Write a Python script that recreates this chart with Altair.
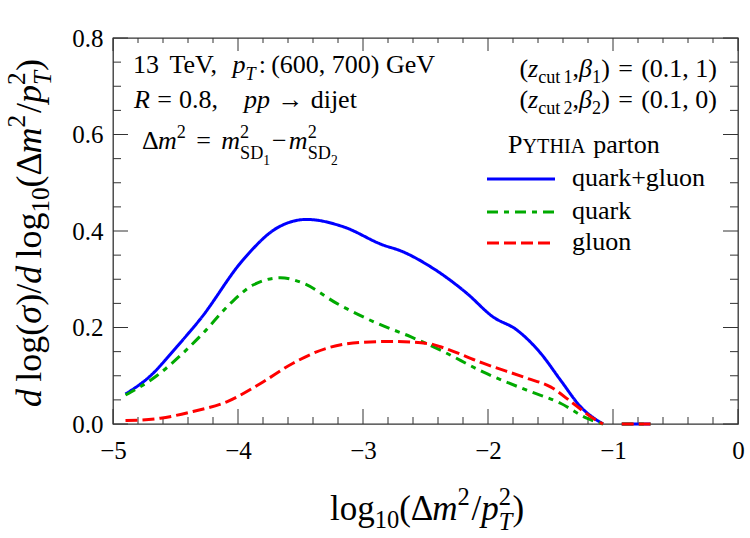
import altair as alt
import pandas as pd

# ---- curves: log10(dm^2/pT^2) vs normalised distribution ----
series_names = ["quark+gluon", "quark", "gluon"]

qg_x = [-4.90, -4.70, -4.49, -4.30, -3.96, -3.69, -3.45, -3.16, -2.84, -2.70,
        -2.46, -2.17, -1.96, -1.77, -1.58, -1.42, -1.26, -1.08]
qg_y = [0.062, 0.100, 0.160, 0.218, 0.340, 0.406, 0.424, 0.409, 0.371, 0.359,
        0.326, 0.271, 0.222, 0.195, 0.147, 0.091, 0.036, 0.000]

q_x = [-4.90, -4.65, -4.44, -4.28, -4.06, -3.88, -3.66, -3.48, -3.21, -2.89, -2.62,
       -2.38, -2.04, -1.69, -1.42, -1.21, -1.08]
q_y = [0.060, 0.100, 0.147, 0.188, 0.250, 0.288, 0.303, 0.292, 0.250, 0.209, 0.181,
       0.153, 0.108, 0.070, 0.043, 0.012, 0.000]

g_x = [-4.90, -4.62, -4.36, -4.09, -3.82, -3.56, -3.29, -3.02, -2.76, -2.46,
       -2.38, -2.04, -1.69, -1.50, -1.32, -1.16, -1.08]
g_y = [0.007, 0.012, 0.026, 0.046, 0.084, 0.126, 0.157, 0.169, 0.171, 0.166,
       0.160, 0.126, 0.095, 0.077, 0.043, 0.012, 0.000]

# short zero-valued piece beyond the endpoint
tail_x = [-0.93, -0.70]
tail_y = [0.0, 0.0]

x_tick_values = [-5, -4, -3, -2, -1, 0]
y_tick_values = [0.0, 0.2, 0.4, 0.6, 0.8]

# ---- geometry ----
W, H = 625, 386
X0, Y0 = 113, 38
XMIN, XMAX, YMIN, YMAX = -5.0, 0.0, 0.0, 0.8

colors = {"quark+gluon": "#0000ff", "quark": "#00aa00", "gluon": "#ff0000"}
dashes = {"quark+gluon": [1, 0], "quark": [11, 6, 5, 6], "gluon": [12, 5]}
LW = 3

FONT = "'Liberation Serif', 'Times New Roman', serif"


def curve_frame(name, xs, ys):
    rows = [{"x": a, "y": b, "seg": 0} for a, b in zip(xs, ys)]
    rows += [{"x": a, "y": b, "seg": 1} for a, b in zip(tail_x, tail_y)]
    return pd.DataFrame(rows)


xs_scale = alt.Scale(domain=[XMIN, XMAX], nice=False, zero=False)
ys_scale = alt.Scale(domain=[YMIN, YMAX], nice=False, zero=False)

layers = []

# tick marks pointing inward on all four sides
x_minor = [round(-5 + 0.2 * i, 2) for i in range(26) if i % 5 != 0]
y_minor = [round(0.05 * i, 2) for i in range(17) if i % 4 != 0]


def xticks(vals, length):
    d = pd.DataFrame({"v": vals})
    bot = alt.Chart(d).mark_rule(color="#333", strokeWidth=1).encode(
        x=alt.X("v:Q", scale=xs_scale), y=alt.value(H), y2=alt.value(H - length))
    top = alt.Chart(d).mark_rule(color="#333", strokeWidth=1).encode(
        x=alt.X("v:Q", scale=xs_scale), y=alt.value(0), y2=alt.value(length - 2))
    return [bot, top]


def yticks(vals, length):
    d = pd.DataFrame({"v": vals})
    left = alt.Chart(d).mark_rule(color="#333", strokeWidth=1).encode(
        y=alt.Y("v:Q", scale=ys_scale), x=alt.value(0), x2=alt.value(length))
    right = alt.Chart(d).mark_rule(color="#333", strokeWidth=1).encode(
        y=alt.Y("v:Q", scale=ys_scale), x=alt.value(W), x2=alt.value(W - length))
    return [left, right]


layers += xticks(x_tick_values, 15) + xticks(x_minor, 7)
layers += yticks(y_tick_values, 15) + yticks(y_minor, 8)

# base layer carrying the axes
axis_base = alt.Chart(pd.DataFrame({"x": [XMIN], "y": [YMIN]})).mark_point(opacity=0).encode(
    x=alt.X("x:Q", scale=xs_scale,
            axis=alt.Axis(values=x_tick_values, format="d", title=None, labelPadding=14,
                          labelFlush=False, labelOverlap=False)),
    y=alt.Y("y:Q", scale=ys_scale,
            axis=alt.Axis(values=y_tick_values, format=".1f", title=None, labelPadding=10,
                          labelFlush=False, labelOverlap=False)),
)
layers.insert(0, axis_base)

for name, xs, ys in [("quark+gluon", qg_x, qg_y), ("quark", q_x, q_y), ("gluon", g_x, g_y)]:
    layers.append(
        alt.Chart(curve_frame(name, xs, ys)).mark_line(
            color=colors[name], strokeDash=dashes[name], strokeWidth=LW,
            interpolate="monotone").encode(
            x=alt.X("x:Q", scale=xs_scale), y=alt.Y("y:Q", scale=ys_scale),
            detail="seg:N")
    )

# ---- rich text (Times metrics, em units) ----
REG = {' ': 0.25, '.': 0.25, ',': 0.25, ':': 0.278, '(': 0.333, ')': 0.333, '=': 0.564,
       '+': 0.564, '\u2212': 0.564, '/': 0.278, '\u2192': 1.0,
       'T': 0.611, 'V': 0.722, 'G': 0.722, 'S': 0.556, 'D': 0.722, 'P': 0.556, 'Y': 0.722,
       'H': 0.722, 'I': 0.333, 'A': 0.722, 'R': 0.667,
       'a': 0.444, 'c': 0.444, 'd': 0.5, 'e': 0.444, 'g': 0.5, 'i': 0.278, 'j': 0.278,
       'k': 0.5, 'l': 0.278, 'n': 0.5, 'o': 0.5, 'p': 0.5, 'q': 0.5, 'r': 0.333,
       't': 0.278, 'u': 0.5, '\u0394': 0.612}
ITA = {'p': 0.5, 'T': 0.556, 'R': 0.611, 'm': 0.722, 'z': 0.389, 'd': 0.5,
       '\u03b2': 0.5, '\u03c3': 0.5}

# kind -> (relative size, baseline shift in em of the main size, italic)
KINDS = {
    "r": (1.0, 0.0, False), "i": (1.0, 0.0, True),
    "sub": (0.7, 0.22, False), "isub": (0.7, 0.28, True),
    "sup": (0.7, -0.44, False),
    "lsub": (0.7, 0.40, False), "ssub": (0.52, 0.60, False),
    "sc": (0.78, 0.0, False),
}


def text_width(s, italic):
    tab = ITA if italic else REG
    return sum(tab.get(c, REG.get(c, 0.5)) for c in s)


def lay(pieces, size):
    out, pos = [], 0.0
    for p in pieces:
        if p[0] is None:
            pos += p[1] * size
            continue
        text, kind = p[0], p[1]
        adv = p[2] if len(p) > 2 else True
        sc, sh, it = KINDS[kind]
        fs = size * sc
        out.append((text, pos, sh * size, fs, it))
        if adv:
            pos += text_width(text, it) * fs
    return out, pos


text_rows = []


def place(pieces, size, cx, cy, anchor="start", rotate=False):
    items, total = lay(pieces, size)
    shift = {"start": 0.0, "middle": -total / 2, "end": -total}[anchor]
    for text, along, perp, fs, it in items:
        a = along + shift
        if rotate:
            px, py, ang = cx + perp, cy - a, 270
        else:
            px, py, ang = cx + a, cy + perp, 0
        text_rows.append({
            "text": text,
            "x": XMIN + (px - X0) / W * (XMAX - XMIN),
            "y": YMAX - (py - Y0) / H * (YMAX - YMIN),
            "fs": fs, "italic": it, "angle": ang,
        })


G = None  # marker for a horizontal gap
ANN = 26
place([("13", "r"), (G, 0.4), ("TeV,", "r"), (G, 0.4), ("p", "i"), ("T", "isub"),
       (G, 0.12), (":", "r"), (G, 0.2), ("(600, 700)", "r"), (G, 0.25), ("GeV", "r")],
      ANN, 133, 73)
place([("R", "i"), (G, 0.28), ("=", "r"), (G, 0.28), ("0.8,", "r"), (G, 1.0),
       ("pp", "i"), (G, 0.28), ("\u2192", "r"), (G, 0.28), ("dijet", "r")],
      ANN, 134, 108)
place([("\u0394", "r"), ("m", "i"), ("2", "sup"), (G, 0.4), ("=", "r"), (G, 0.4),
       ("m", "i"), ("2", "sup", False), ("SD", "lsub"), ("1", "ssub"), (G, 0.08),
       ("\u2212", "r"), (G, 0.08),
       ("m", "i"), ("2", "sup", False), ("SD", "lsub"), ("2", "ssub")],
      ANN, 142, 149)

for k, pair, base in [("1", "(0.1, 1)", 77), ("2", "(0.1, 0)", 108)]:
    place([("(", "r"), ("z", "i"), ("cut", "sub"), (G, 0.12), (k, "sub"), (",", "r"),
           ("\u03b2", "i"), (k, "sub"), (")", "r"), (G, 0.32), ("=", "r"), (G, 0.32),
           (pair, "r")],
          ANN, 717, base, anchor="end")

place([("P", "r"), ("YTHIA", "sc"), (G, 0.3), ("parton", "r")], ANN, 508, 153)

legend_y = [179, 212, 243]
for name, ly in zip(series_names, legend_y):
    place([(name, "r")], ANN, 572, ly + 7)
    layers.append(
        alt.Chart(pd.DataFrame({"k": [0]})).mark_rule(
            color=colors[name], strokeDash=dashes[name], strokeWidth=LW).encode(
            x=alt.value(487 - X0), x2=alt.value(555 - X0), y=alt.value(ly - Y0))
    )

# axis titles
place([("log", "r"), ("10", "sub"), ("(\u0394", "r"), ("m", "i"), ("2", "sup"),
       (G, 0.05), ("/", "r"), ("p", "i"), ("2", "sup", False), ("T", "isub"), (")", "r")],
      35, 427, 520, anchor="middle")
place([("d", "i"), (G, 0.2), ("log(", "r"), ("\u03c3", "i"), (")/", "r"), ("d", "i"),
       (G, 0.2), ("log", "r"), ("10", "sub"), ("(\u0394", "r"), ("m", "i"), ("2", "sup"),
       (G, 0.05), ("/", "r"), ("p", "i"), ("2", "sup", False), ("T", "isub"), (")", "r")],
      36, 41, 233, anchor="middle", rotate=True)

tdf = pd.DataFrame(text_rows)
for it in [False, True]:
    for ang in [0, 270]:
        sub = tdf[(tdf["italic"] == it) & (tdf["angle"] == ang)]
        if len(sub) == 0:
            continue
        layers.append(
            alt.Chart(sub).mark_text(
                align="left", baseline="alphabetic", font=FONT, color="#000",
                fontStyle="italic" if it else "normal", angle=ang).encode(
                x=alt.X("x:Q", scale=xs_scale), y=alt.Y("y:Q", scale=ys_scale),
                text="text:N", size=alt.Size("fs:Q", scale=None, legend=None))
        )

chart = alt.layer(*layers).properties(
    width=W, height=H, autosize="none",
    padding={"left": X0, "top": Y0, "right": 750 - X0 - W, "bottom": 538 - Y0 - H},
).configure_view(stroke="#333", strokeWidth=1.3).configure_axis(
    domain=False, ticks=False, grid=False, labelFont=FONT, labelFontSize=25,
    labelColor="#000",
)

chart.save("out.html", embed_options={"renderer": "svg", "actions": False})
